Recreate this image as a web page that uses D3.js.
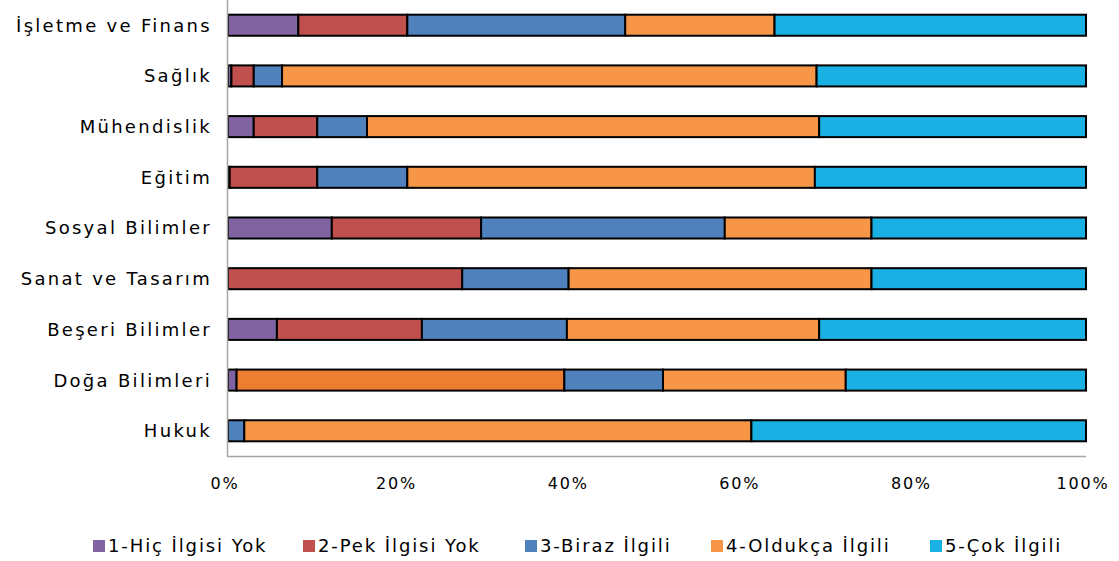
<!DOCTYPE html>
<html>
<head>
<meta charset="utf-8">
<script src="https://cdn.jsdelivr.net/npm/d3@7"></script>
<style>
  body { margin: 0; background: #fff; }
  text { font-family: "DejaVu Sans", sans-serif; fill: #000; }
</style>
</head>
<body>
<div id="chart"></div>
<script>
// Chart size
const width = 1119;
const height = 561;

// Data
const categories = ["İşletme ve Finans", "Sağlık", "Mühendislik", "Eğitim", "Sosyal Bilimler",
  "Sanat ve Tasarım", "Beşeri Bilimler", "Doğa Bilimleri", "Hukuk"];
const seriesNames = ["1-Hiç İlgisi Yok", "2-Pek İlgisi Yok", "3-Biraz İlgili", "4-Oldukça İlgili", "5-Çok İlgili"];
const hicIlgisiYok   = [8.2, 0.4, 3.0, 0.2, 12.1, 0,    5.7, 1.0, 0];
const pekIlgisiYok   = [12.7, 2.6, 7.4, 10.2, 17.4, 27.3, 16.9, 38.2, 0];
const birazIlgili    = [25.4, 3.3, 5.8, 10.5, 28.4, 12.4, 16.9, 11.5, 1.9];
const oldukcaIlgili  = [17.4, 62.3, 52.7, 47.5, 17.1, 35.3, 29.4, 21.3, 59.1];
const cokIlgili      = [36.3, 31.4, 31.1, 31.6, 25.0, 25.0, 31.1, 28.0, 39.0];
const xTicks = [0, 20, 40, 60, 80, 100];

const colors = ["#8064A2", "#C0504D", "#4F81BD", "#F79646", "#1BB0E3"];

const seriesValues = [hicIlgisiYok, pekIlgisiYok, birazIlgili, oldukcaIlgili, cokIlgili];
const rows = categories.map((c, i) => {
  const r = { category: c };
  seriesNames.forEach((s, j) => r[s] = seriesValues[j][i]);
  return r;
});

const svg = d3.select("#chart")
  .append("svg")
  .attr("width", width)
  .attr("height", height);

const x = d3.scaleLinear().domain([0, 100]).range([228, 1086]);
const y = d3.scaleBand().domain(categories).range([0, 456]).paddingInner(0.585).paddingOuter(0.29);

const stack = d3.stack().keys(seriesNames)
  .offset(d3.stackOffsetExpand);
const stacked = stack(rows);

// Bars
svg.append("g")
  .selectAll("g")
  .data(stacked)
  .enter()
  .append("g")
  .attr("fill", (d, i) => colors[i])
  .selectAll("rect")
  .data(d => d)
  .enter()
  .filter(d => d[1] - d[0] > 0)
  .append("rect")
  .attr("x", d => x(d[0] * 100))
  .attr("y", d => y(d.data.category))
  .attr("width", d => x(d[1] * 100) - x(d[0] * 100))
  .attr("height", y.bandwidth())
  // Doğa Bilimleri uses a different orange for series 2 in the original
  .attr("fill", function(d) {
    const key = d3.select(this.parentNode).datum().key;
    if (key === seriesNames[1] && d.data.category === "Doğa Bilimleri") return "#ED7D31";
    return null;
  })
  .attr("stroke", "#000")
  .attr("stroke-width", 2);

// Axis lines
svg.append("line")
  .attr("x1", 227.5).attr("x2", 227.5)
  .attr("y1", 0).attr("y2", 456.5)
  .attr("stroke", "#A6A6A6").attr("stroke-width", 1.5);
svg.append("line")
  .attr("x1", 227).attr("x2", 1086)
  .attr("y1", 456.5).attr("y2", 456.5)
  .attr("stroke", "#A6A6A6").attr("stroke-width", 1.5);

// Category labels
svg.append("g")
  .selectAll("text")
  .data(categories)
  .enter()
  .append("text")
  .attr("x", 212)
  .attr("y", d => y(d) + y.bandwidth() / 2)
  .attr("dy", "0.36em")
  .attr("text-anchor", "end")
  .style("font-size", "18px")
  .style("letter-spacing", "2.3px")
  .text(d => d);

// X tick labels
svg.append("g")
  .selectAll("text")
  .data(xTicks)
  .enter()
  .append("text")
  .attr("x", d => x(d) - 3)
  .attr("y", 483)
  .attr("dy", "0.36em")
  .attr("text-anchor", "middle")
  .style("font-size", "16px")
  .style("letter-spacing", "1.8px")
  .text(d => d + "%");

// Legend
const legendX = [93, 303, 525, 711, 930];
const legend = svg.append("g")
  .selectAll("g")
  .data(seriesNames)
  .enter()
  .append("g")
  .attr("transform", (d, i) => `translate(${legendX[i]},546)`);
legend.append("rect")
  .attr("x", 0).attr("y", -6)
  .attr("width", 12).attr("height", 12)
  .attr("fill", (d, i) => colors[i]);
legend.append("text")
  .attr("x", 15)
  .attr("dy", "0.36em")
  .style("font-size", "18px")
  .style("letter-spacing", "1.9px")
  .text(d => d);
</script>
</body>
</html>
